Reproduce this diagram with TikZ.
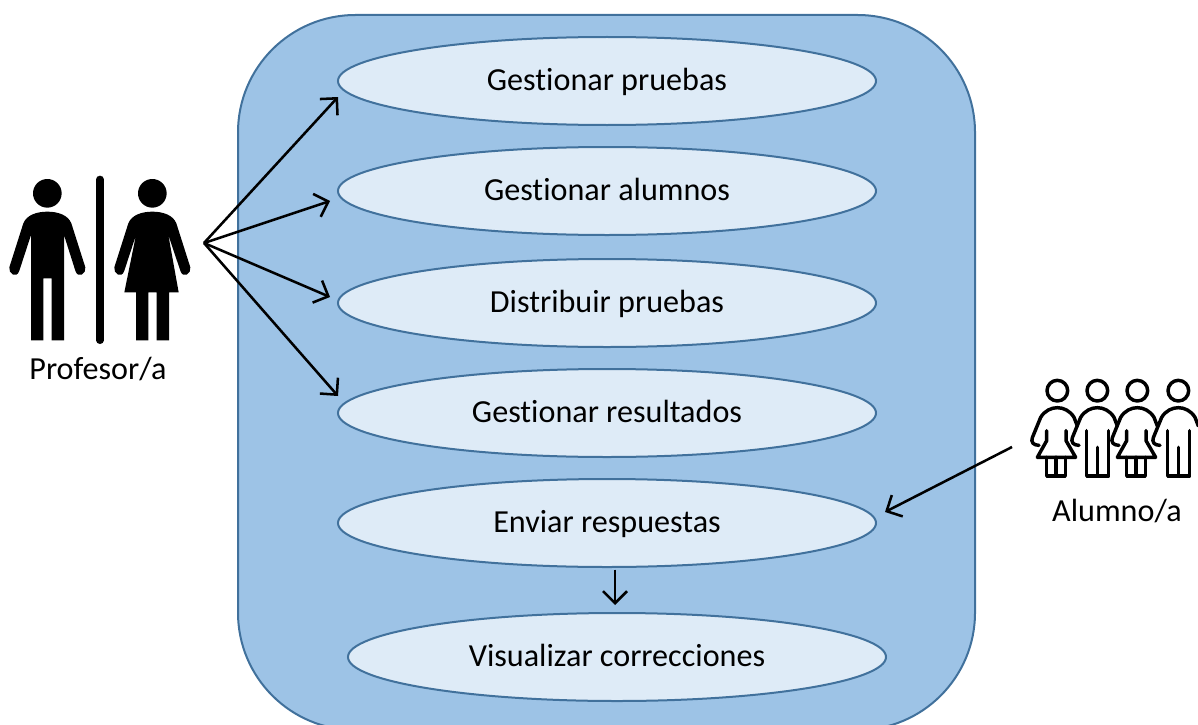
\documentclass[tikz,border=0pt]{standalone}
\usepackage{fontspec}
\setmainfont[Ligatures=NoCommon]{Carlito}
\usetikzlibrary{shapes.geometric,arrows.meta}
\definecolor{cajafill}{HTML}{9DC3E6}
\definecolor{cajaline}{HTML}{41719C}
\definecolor{casofill}{HTML}{DEEBF7}
\tikzset{
    caja/.style={draw=cajaline, fill=cajafill, line width=1.5pt, rounded corners=88pt, minimum width=552.75pt, minimum height=536.25pt, inner sep=0pt, outer sep=0pt},
    caso/.style={draw=cajaline, fill=casofill, line width=1.5pt, ellipse, minimum width=403.5pt, minimum height=66pt, inner sep=0pt, outer sep=0pt, text height=19pt, text depth=4.5pt, font=\fontsize{24.1pt}{29pt}\selectfont},
    etiqueta/.style={font=\fontsize{24.1pt}{29pt}\selectfont, inner sep=0pt},
    flecha/.style={-{Straight Barb[length=9pt,width=18pt]}, line width=1.9pt, black},
    silueta/.style={fill=black, draw=none},
    trazo/.style={draw=black, line width=2.6pt, line join=round, line cap=round},
}
\begin{document}
\begin{tikzpicture}[x=0.75pt, y=-0.75pt]
    \clip (0,0) rectangle (1198,724);

    \node[caja] (sistema) at (606.5,372.5) {};

    \node[caso] (pruebas) at (607,81) {Gestionar pruebas};
    \node[caso, below of=pruebas, node distance=82.5pt] (alumnos) {Gestionar alumnos};
    \node[caso, below of=alumnos, node distance=84pt] (distribuir) {Distribuir pruebas};
    \node[caso, below of=distribuir, node distance=82.5pt] (resultados) {Gestionar resultados};
    \node[caso, below of=resultados, node distance=82.5pt] (enviar) {Enviar respuestas};
    \node[caso, below of=enviar, node distance=100.5pt, xshift=7.5pt] (correcciones) {Visualizar correcciones};

    % profesor/a
    \begin{scope}[shift={(0,160)}, x=0.25pt, y=-0.25pt]
        \fill[silueta] (142,100) circle (43);
        \fill[silueta] (142,155) .. controls (110,155) and (80,165) .. (70,190) -- (28,322)
            .. controls (24,340) and (50,358) .. (58,332) -- (93,225) -- (93,541) -- (130,541)
            -- (130,355) -- (155,355) -- (155,541) -- (192,541) -- (192,225) -- (226,332)
            .. controls (234,358) and (260,340) .. (256,322) -- (214,190)
            .. controls (204,165) and (174,155) .. (142,155) -- cycle;
        \draw[line width=5.5pt, line cap=round] (300,58) -- (300,541);
        \fill[silueta] (457,100) circle (43);
        \fill[silueta] (457,155) .. controls (425,155) and (395,165) .. (385,190) -- (343,322)
            .. controls (339,340) and (365,358) .. (373,332) -- (408,225) -- (373,397) -- (408,397)
            -- (408,541) -- (445,541) -- (445,397) -- (470,397) -- (470,541) -- (507,541)
            -- (507,397) -- (536,397) -- (505,225) -- (541,332)
            .. controls (549,358) and (575,340) .. (571,322) -- (529,190)
            .. controls (519,165) and (489,155) .. (457,155) -- cycle;
    \end{scope}
    \node[etiqueta] (profesor) at (98,369) {Profesor/a};
    \coordinate (salida) at (204,243);

    % alumno/a
    \begin{scope}[shift={(1020,370)}, x=0.25pt, y=-0.25pt]
        \foreach \cx in {112,232,352,475} {
            \draw[trazo] (\cx,62) circle (31);
            \draw[trazo] (\cx-55,226) .. controls (\cx-72,226) and (\cx-80,216) .. (\cx-75,203) -- (\cx-50,142)
                .. controls (\cx-38,122) and (\cx-18,113) .. (\cx,113)
                .. controls (\cx+18,113) and (\cx+38,122) .. (\cx+50,142) -- (\cx+60,168);
        }
        \foreach \cx in {112,352} {
            \draw[trazo] (\cx-32,182) -- (\cx-32,212) -- (\cx-60,262) -- (\cx+55,262) -- (\cx+26,212) -- (\cx+26,182);
            \draw[trazo] (\cx-32,262) -- (\cx-32,318) -- (\cx+24,318) -- (\cx+24,262);
            \draw[trazo] (\cx-4,262) -- (\cx-4,318);
        }
        \foreach \cx in {232,475} {
            \draw[trazo] (\cx-32,182) -- (\cx-32,318) -- (\cx+34,318) -- (\cx+34,182);
            \draw[trazo] (\cx+1,232) -- (\cx+1,318);
        }
    \end{scope}
    \node[etiqueta] (alumno) at (1117,511) {Alumno/a};
    \coordinate (entrada) at (1012,447);

    \draw[flecha] (salida) -- ([yshift=-12pt]pruebas.west);
    \draw[flecha] (salida) -- ([xshift=-6pt,yshift=-7.5pt]alumnos.west);
    \draw[flecha] (salida) -- ([xshift=-6pt,yshift=4.5pt]distribuir.west);
    \draw[flecha] (salida) -- ([yshift=12.75pt]resultados.west);
    \draw[flecha] (entrada) -- ([xshift=6.75pt,yshift=8.25pt]enviar.east);
    \draw[flecha] ([xshift=6pt,yshift=-2pt]enviar.south) -- ([xshift=-1.5pt,yshift=6pt]correcciones.north);
\end{tikzpicture}
\end{document}
